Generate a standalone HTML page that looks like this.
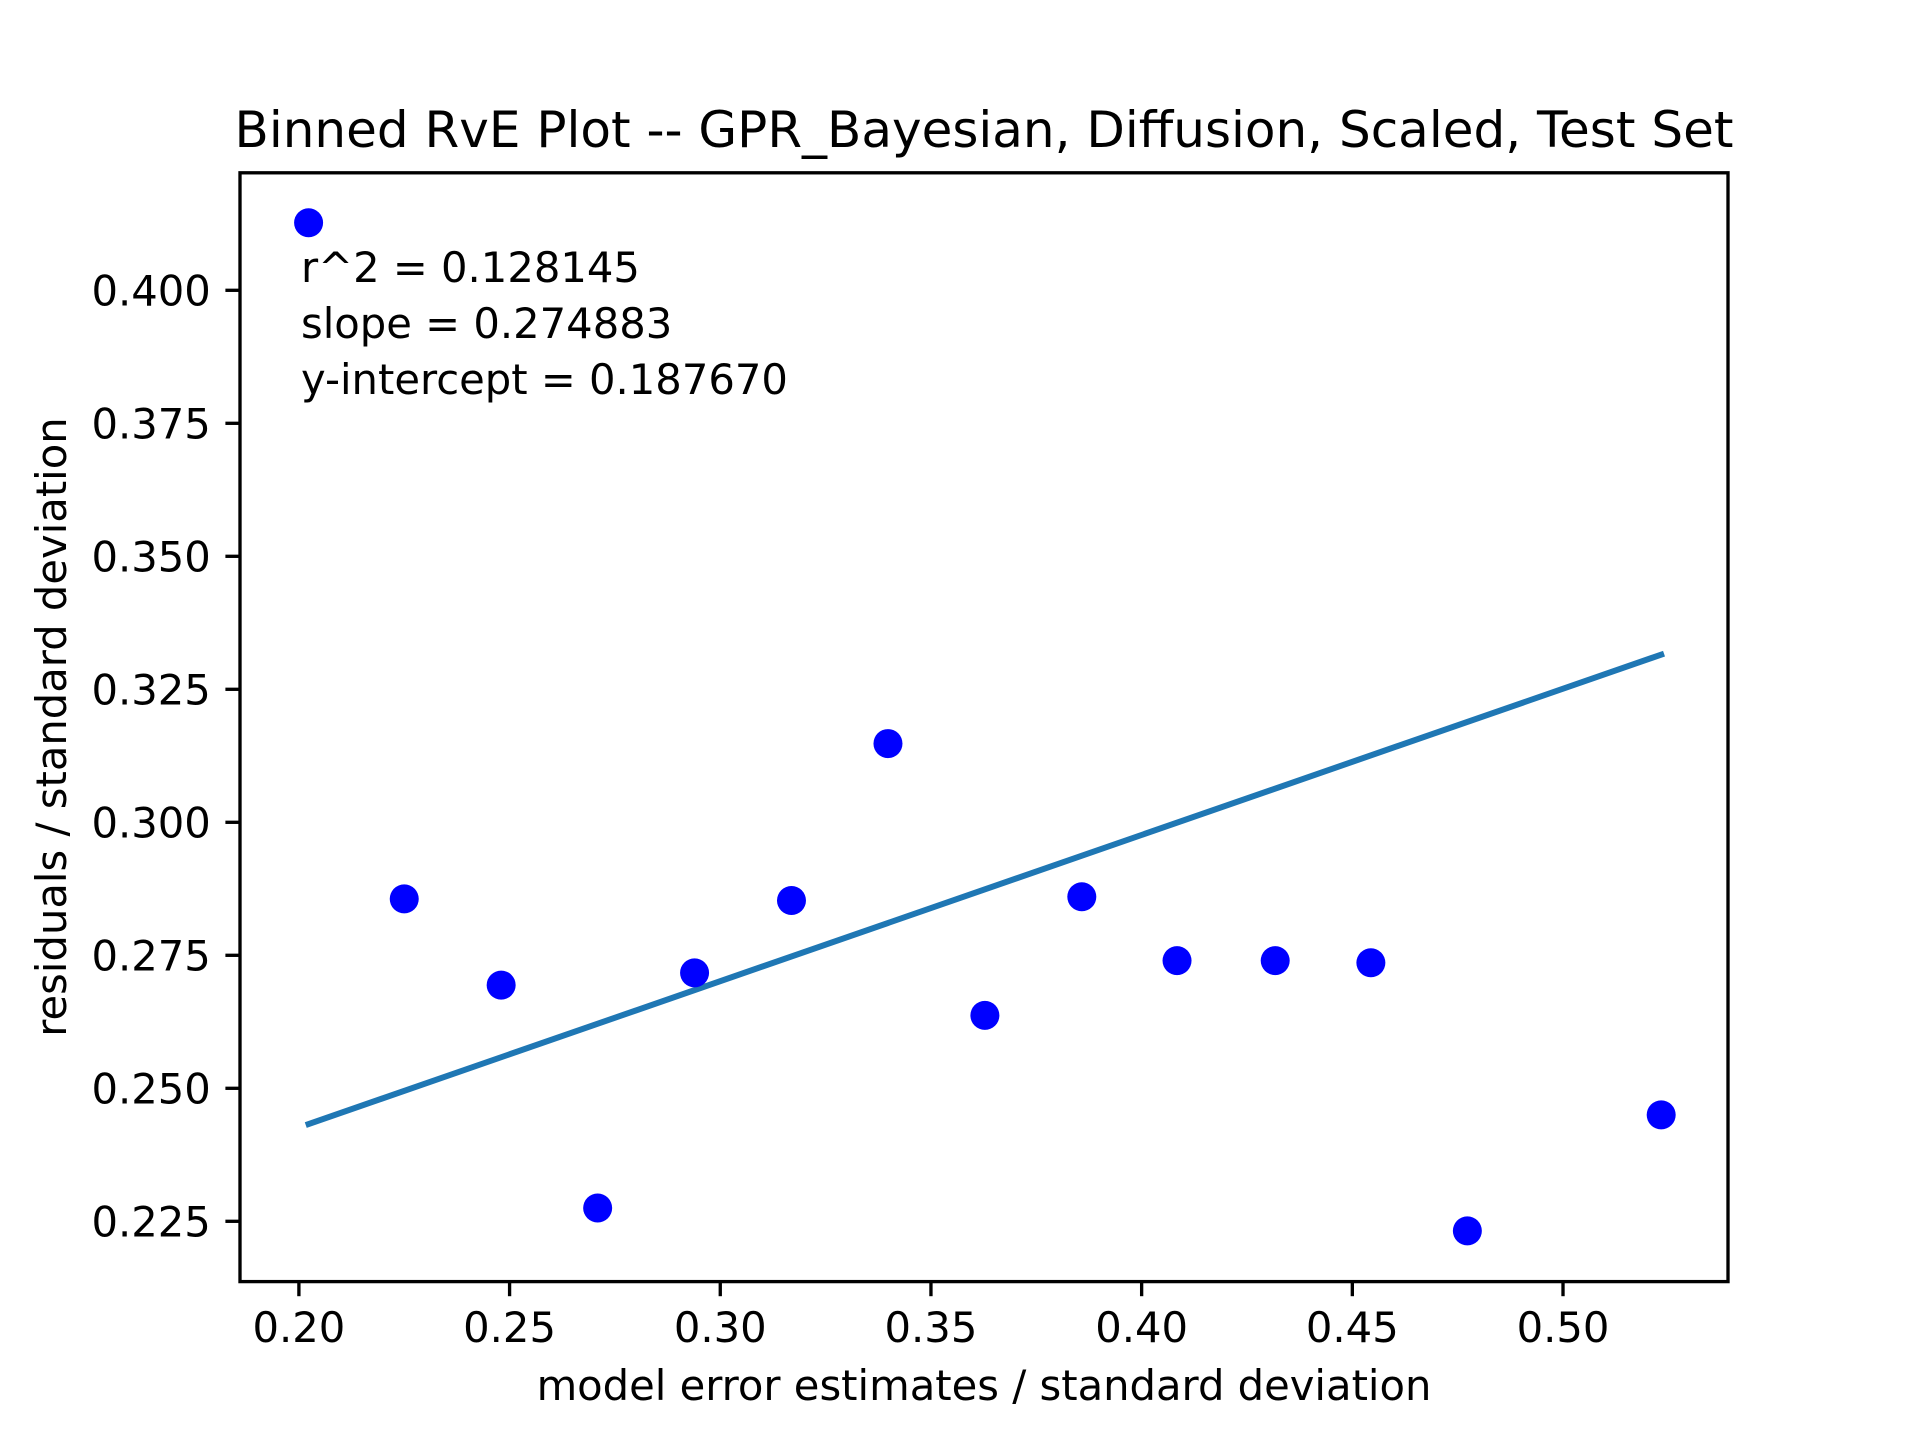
<!DOCTYPE html>
<html><head><meta charset="utf-8"><style>
html,body{margin:0;padding:0;background:#fff}
svg text{font-family:"DejaVu Sans","Liberation Sans",sans-serif;fill:#000}
</style></head><body>
<svg id="chart" width="1920" height="1440" viewBox="0 0 1920 1440" xmlns="http://www.w3.org/2000/svg">
<rect width="1920" height="1440" fill="#fff"/>
<text x="984" y="147" font-size="50" text-anchor="middle">Binned RvE Plot -- GPR_Bayesian, Diffusion, Scaled, Test Set</text>
<g id="marks"></g>
<rect x="240" y="172.8" width="1488" height="1108.8" fill="none" stroke="#000" stroke-width="3.33"/>
<g id="xt"></g><g id="yt"></g>
<text x="301" y="282" font-size="41.7">r^2 = 0.128145</text>
<text x="301" y="338" font-size="41.7">slope = 0.274883</text>
<text x="301" y="394" font-size="41.7">y-intercept = 0.187670</text>
<text x="984" y="1400" font-size="41.7" text-anchor="middle">model error estimates / standard deviation</text>
<text transform="translate(66,727) rotate(-90)" font-size="41.7" text-anchor="middle">residuals / standard deviation</text>
</svg>
<script>
const xVals=[0.2023,0.2250,0.2480,0.2709,0.2939,0.3169,0.3398,0.3628,0.3858,0.4084,0.4317,0.4544,0.4773,0.5233];
const yVals=[0.4127,0.2856,0.2694,0.2275,0.2717,0.2853,0.3148,0.2637,0.2860,0.2740,0.2740,0.2736,0.2232,0.2450];
const fitSlope=0.274883;
const fitIntercept=0.187670;
const xTicks=[0.20,0.25,0.30,0.35,0.40,0.45,0.50];
const xTickLabels=["0.20","0.25","0.30","0.35","0.40","0.45","0.50"];
const yTicks=[0.225,0.250,0.275,0.300,0.325,0.350,0.375,0.400];
const yTickLabels=["0.225","0.250","0.275","0.300","0.325","0.350","0.375","0.400"];
const NS="http://www.w3.org/2000/svg";
const X=v=>298.9+(v-0.2)*4213.7;
const Y=v=>290.3-(v-0.4)*5320;
function mk(t,a,p){const e=document.createElementNS(NS,t);for(const k in a)e.setAttribute(k,a[k]);p.appendChild(e);return e;}
const marks=document.getElementById('marks');
const x0=Math.min(...xVals),x1=Math.max(...xVals);
const ln=mk('line',{x1:X(x0),y1:Y(fitSlope*x0+fitIntercept),x2:X(x1),y2:Y(fitSlope*x1+fitIntercept),stroke:'#1f77b4','stroke-width':6,'stroke-linecap':'square'},marks);


xVals.forEach((v,i)=>{
  const c=mk('circle',{cx:X(v),cy:Y(yVals[i]),r:14.5,fill:'#0000ff'},marks);
  
  
});
const xt=document.getElementById('xt');
xTicks.forEach((v,i)=>{
  const l=mk('line',{x1:X(v),x2:X(v),y1:1281.6,y2:1296.2,stroke:'#000','stroke-width':3.33},xt);
  
  
  const t=mk('text',{x:X(v),y:1342,'font-size':41.7,'text-anchor':'middle'},xt);
  t.textContent=xTickLabels[i];
  
  
});
const yt=document.getElementById('yt');
yTicks.forEach((v,i)=>{
  const l=mk('line',{x1:225.4,x2:240,y1:Y(v),y2:Y(v),stroke:'#000','stroke-width':3.33},yt);
  
  
  const t=mk('text',{x:210.8,y:Y(v)+15,'font-size':41.7,'text-anchor':'end'},yt);
  t.textContent=yTickLabels[i];
  
  
});
</script>
</body></html>
